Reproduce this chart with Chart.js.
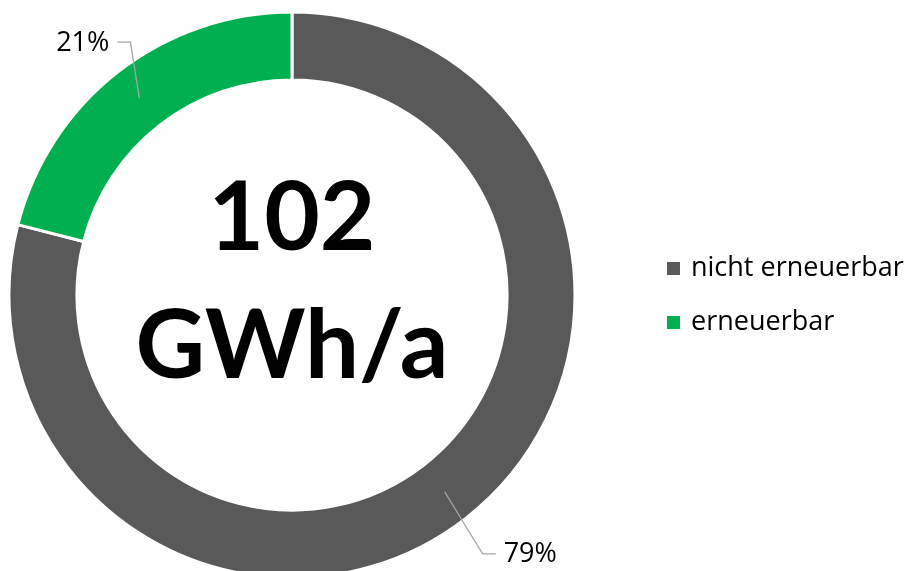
<!DOCTYPE html>
<html lang="de">
<head>
<meta charset="utf-8">
<title>Energiebedarf</title>
<script src="https://cdn.jsdelivr.net/npm/chart.js@4/dist/chart.umd.min.js"></script>
<style>
    html, body { margin: 0; padding: 0; background: #fff; }
    #wrap { width: 912px; height: 571px; position: relative; }
</style>
</head>
<body>
<div id="wrap"><canvas id="energyChart" width="912" height="571"></canvas></div>
<script>
// Chart data
const categories = ['nicht erneuerbar', 'erneuerbar'];
const shares = [79, 21];
const shareLabels = ['79%', '21%'];
const centerLines = ['102', 'GWh/a'];

const sliceColors = ['#595959', '#00b050'];
const bigFont = 'Lato, "Open Sans", sans-serif';
const smallFont = '"Open Sans", Lato, sans-serif';

/**
 * Percent labels with elbow leader lines
 */
const leaderLabels = {
    id: 'leaderLabels',
    afterDatasetsDraw(chart) {
        const ctx = chart.ctx;
        const arcs = chart.getDatasetMeta(0).data;
        // elbow offsets from the anchor point, per slice
        const elbows = [{ dx: 38, dy: 62, side: 1 }, { dx: -9, dy: -56, side: -1 }];
        ctx.save();
        ctx.font = '27px ' + smallFont;
        ctx.fillStyle = '#000';
        ctx.textBaseline = 'middle';
        arcs.forEach((arc, i) => {
            const mid = (arc.startAngle + arc.endAngle) / 2;
            const r = (arc.innerRadius + arc.outerRadius) / 2;
            const ax = arc.x + Math.cos(mid) * r;
            const ay = arc.y + Math.sin(mid) * r;
            const e = elbows[i];
            const ex = ax + e.dx;
            const ey = ay + e.dy;
            const tx = ex + e.side * 13;
            ctx.strokeStyle = '#a6a6a6';
            ctx.lineWidth = 1.3;
            ctx.beginPath();
            ctx.moveTo(ax, ay);
            ctx.lineTo(ex, ey);
            ctx.lineTo(tx, ey);
            ctx.stroke();
            ctx.textAlign = e.side > 0 ? 'left' : 'right';
            ctx.fillText(shareLabels[i], tx + e.side * 8, ey + 1);
        });
        ctx.restore();
    }
};

/**
 * Total in the middle of the ring
 */
const centerText = {
    id: 'centerText',
    afterDraw(chart) {
        const arc = chart.getDatasetMeta(0).data[0];
        const ctx = chart.ctx;
        ctx.save();
        ctx.font = 'bold 96px ' + bigFont;
        ctx.fillStyle = '#000';
        ctx.textAlign = 'center';
        ctx.textBaseline = 'middle';
        ctx.fillText(centerLines[0], arc.x, arc.y - 76);
        ctx.fillText(centerLines[1], arc.x, arc.y + 52);
        ctx.restore();
    }
};

/**
 * Legend on the right side
 */
const sideLegend = {
    id: 'sideLegend',
    afterDraw(chart) {
        const ctx = chart.ctx;
        const x = 667;
        const y0 = 268;
        const step = 54;
        ctx.save();
        ctx.font = '27px ' + smallFont;
        ctx.textAlign = 'left';
        ctx.textBaseline = 'middle';
        chart.data.labels.forEach((label, i) => {
            const y = y0 + i * step;
            ctx.fillStyle = chart.data.datasets[0].backgroundColor[i];
            ctx.fillRect(x, y - 6, 13, 13);
            ctx.fillStyle = '#000';
            ctx.fillText(label, x + 24, y);
        });
        ctx.restore();
    }
};

new Chart(document.getElementById('energyChart').getContext('2d'), {
    type: 'doughnut',
    data: {
        labels: categories,
        datasets: [{
            data: shares,
            backgroundColor: sliceColors,
            borderColor: '#ffffff',
            borderWidth: 3,
            radius: 283,
            clip: false
        }]
    },
    options: {
        responsive: false,
        animation: false,
        cutout: '76%',
        layout: { padding: { left: 0, right: 328, top: 19, bottom: 0 } },
        plugins: {
            legend: { display: false },
            tooltip: { enabled: false }
        }
    },
    plugins: [leaderLabels, centerText, sideLegend]
});
</script>
</body>
</html>
